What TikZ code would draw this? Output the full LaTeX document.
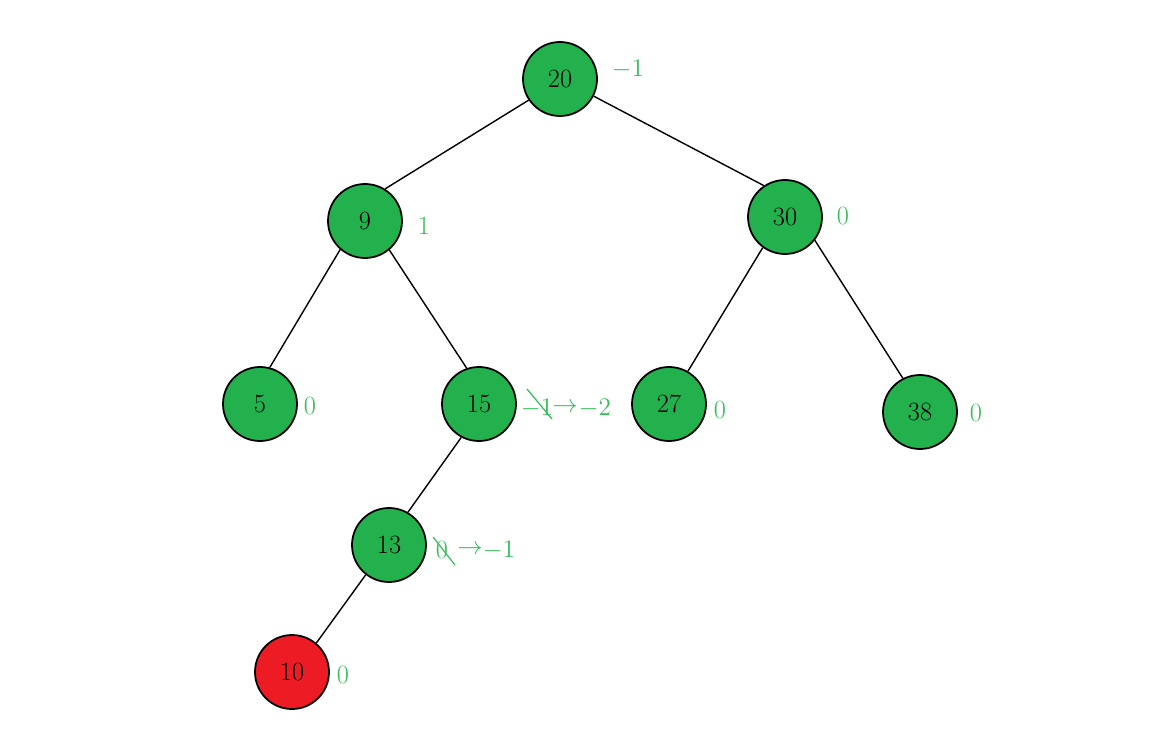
\documentclass[tikz,border=0pt]{standalone}
\usetikzlibrary{positioning}
\usepackage{amsmath}

\definecolor{avlgreen}{RGB}{34,177,76}
\definecolor{avlred}{RGB}{237,28,36}
\definecolor{bfgreen}{RGB}{52,190,88}

\begin{document}
\begin{tikzpicture}[line width=0.8pt,
  tnode/.style={circle,draw=black,line width=1pt,fill=avlgreen,minimum size=1.48cm,inner sep=0pt,font=\fontsize{15}{17}\selectfont},
  bf/.style={text=bfgreen,font=\fontsize{15}{17}\selectfont,inner sep=1pt}]
\useasboundingbox (0,0) rectangle (23.16,15);
% 结点
\node[tnode] (n20) at (11.2,13.42) {20};
\node[tnode] (n9) at (7.3,10.58) {9};
\node[tnode] (n30) at (15.7,10.66) {30};
\node[tnode] (n5) at (5.2,6.92) {5};
\node[tnode] (n15) at (9.58,6.92) {15};
\node[tnode] (n27) at (13.38,6.92) {27};
\node[tnode] (n38) at (18.4,6.76) {38};
\node[tnode] (n13) at (7.78,4.1) {13};
\node[tnode,fill=avlred] (n10) at (5.84,1.56) {10};
% 边（按边界上的角度连接）
\draw (n20.214) -- (n9.58);
\draw (n20.333) -- (n30.124);
\draw (n9.229) -- (n5.75);
\draw (n9.310) -- (n15.109);
\draw (n30.234) -- (n27.60);
\draw (n30.322) -- (n38.117);
\draw (n15.242) -- (n13.60);
\draw (n13.232) -- (n10.50);
% 平衡因子
\node[bf] (b20) at (12.56,13.62) {$-1$};
\node[bf] (b9) at (8.48,10.48) {1};
\node[bf] (b30) at (16.86,10.68) {0};
\node[bf] (b5) at (6.2,6.88) {0};
\node[bf] (b27) at (14.4,6.8) {0};
\node[bf] (b38) at (19.52,6.74) {0};
\node[bf] (b10) at (6.86,1.5) {0};
% 插入后改变的平衡因子（划掉旧值）
\node[bf] (b15) at (10.74,6.84) {$-1$};
\node[bf] (b15a) at (11.3,6.84) {$\rightarrow$};
\node[bf] (b15n) at (11.9,6.84) {$-2$};
\draw[bfgreen,line width=0.7pt] (10.54,7.22) -- (11.04,6.62);
\node[bf] (b13) at (8.84,4.0) {0};
\node[bf] (b13a) at (9.4,4.0) {$\rightarrow$};
\node[bf] (b13n) at (9.98,4.0) {$-1$};
\draw[bfgreen,line width=0.7pt] (8.66,4.26) -- (9.1,3.7);
\end{tikzpicture}
\end{document}
